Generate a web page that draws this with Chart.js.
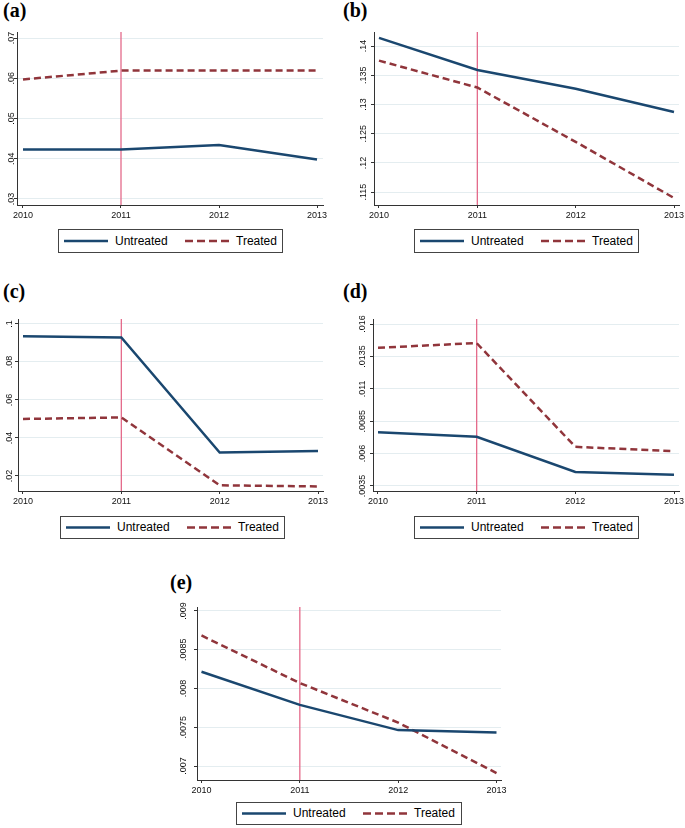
<!DOCTYPE html>
<html>
<head>
<meta charset="utf-8">
<script src="https://cdn.jsdelivr.net/npm/chart.js@4.4.1/dist/chart.umd.min.js"></script>
<style>
  html, body { margin: 0; padding: 0; background: #fff; overflow: hidden; }
  #page { position: relative; width: 685px; height: 828px; }
  canvas { position: absolute; }
  .tag { position: absolute; font: bold 20px "Liberation Serif", "Times New Roman", serif; line-height: 20px; color: #000; }
  .legend { position: absolute; border: 1px solid #444; box-sizing: border-box; font: 12px "Liberation Sans", Arial, sans-serif; color: #000; }
  .legend svg { position: absolute; left: 0; top: 0; }
  .legend span { position: absolute; top: 0; }
</style>
</head>
<body>
<div id="page">
  <div class="tag" style="left:3px;top:0px">(a)</div>
  <div class="tag" style="left:343px;top:0px">(b)</div>
  <div class="tag" style="left:3px;top:281px">(c)</div>
  <div class="tag" style="left:343px;top:281px">(d)</div>
  <div class="tag" style="left:170px;top:572px">(e)</div>
  <canvas id="chart-a"></canvas>
  <canvas id="chart-b"></canvas>
  <canvas id="chart-c"></canvas>
  <canvas id="chart-d"></canvas>
  <canvas id="chart-e"></canvas>
</div>
<script>
// Data
const years = [2010, 2011, 2012, 2013];
const treatYear = 2011;

const untreatedA = [0.0423, 0.0423, 0.0434, 0.0398];
const treatedA = [0.0597, 0.0619, 0.0619, 0.0619];
const ticksA = [0.03, 0.04, 0.05, 0.06, 0.07];
const tickLabelsA = ['.03', '.04', '.05', '.06', '.07'];
const rangeA = [0.0285, 0.0715];

const untreatedB = [0.1414, 0.1359, 0.1327, 0.1287];
const treatedB = [0.1375, 0.1329, 0.1236, 0.1140];
const ticksB = [0.115, 0.12, 0.125, 0.13, 0.135, 0.14];
const tickLabelsB = ['.115', '.12', '.125', '.13', '.135', '.14'];
const rangeB = [0.1128, 0.1424];

const untreatedC = [0.0935, 0.0929, 0.0323, 0.0332];
const treatedC = [0.0500, 0.0508, 0.0151, 0.0145];
const ticksC = [0.02, 0.04, 0.06, 0.08, 0.1];
const tickLabelsC = ['.02', '.04', '.06', '.08', '.1'];
const rangeC = [0.0121, 0.1026];

const untreatedD = [0.00765, 0.00729, 0.00458, 0.00437];
const treatedD = [0.01417, 0.01453, 0.00652, 0.00618];
const ticksD = [0.0035, 0.006, 0.0085, 0.011, 0.0135, 0.016];
const tickLabelsD = ['.0035', '.006', '.0085', '.011', '.0135', '.016'];
const rangeD = [0.00311, 0.01639];

const untreatedE = [0.008216, 0.007788, 0.007463, 0.007433];
const treatedE = [0.008683, 0.00807, 0.00756, 0.00691];
const ticksE = [0.007, 0.0075, 0.008, 0.0085, 0.009];
const tickLabelsE = ['.007', '.0075', '.008', '.0085', '.009'];
const rangeE = [0.00682, 0.00905];

const seriesNames = ['Untreated', 'Treated'];

// Colours (Stata s2color-like)
const NAVY = '#1a476f';
const MAROON = '#90353b';
const XLINE = '#e46a8a';
const GRID = '#e4edf0';
const AXIS = '#333';
const FONT = '"Liberation Sans", Arial, Helvetica, sans-serif';

const Y_AXIS_W = 17;
const X_AXIS_H = 20;
const PAD_TOP = 7;
const PAD_RIGHT = 20;

const measureCtx = document.createElement('canvas').getContext('2d');
measureCtx.font = '9px ' + FONT;

function makeChart(id, cfg) {
  const canvas = document.getElementById(id);
  const box = cfg.area;
  canvas.width = box.right - box.left + Y_AXIS_W + PAD_RIGHT;
  canvas.height = box.bottom - box.top + PAD_TOP + X_AXIS_H;
  canvas.style.left = (box.left - Y_AXIS_W) + 'px';
  canvas.style.top = (box.top - PAD_TOP) + 'px';

  // x range leaves a small margin inside the plot region, as Stata does
  const ppy = (box.right - box.left - 2 * box.mx) / 3;
  const xMin = years[0] - box.mx / ppy;
  const xMax = years[years.length - 1] + box.mx / ppy;

  const widest = Math.max(...cfg.labels.map(l => measureCtx.measureText(l).width));
  const yPad = box.labOff - 3 - widest / 2;

  const toPts = vals => years.map((x, i) => ({ x: x, y: vals[i] }));

  return new Chart(canvas.getContext('2d'), {
    type: 'line',
    data: {
      datasets: [
        {
          label: seriesNames[0],
          data: toPts(cfg.untreated),
          borderColor: NAVY,
          borderWidth: 2.5,
          pointRadius: 0,
          tension: 0,
          order: 1
        },
        {
          label: seriesNames[1],
          data: toPts(cfg.treated),
          borderColor: MAROON,
          borderWidth: 2.5,
          borderDash: [7, 4],
          pointRadius: 0,
          tension: 0,
          order: 2
        },
        {
          label: 'xline',
          data: [{ x: treatYear, y: cfg.range[0] }, { x: treatYear, y: cfg.range[1] }],
          borderColor: XLINE,
          borderWidth: 1.3,
          pointRadius: 0,
          order: 3
        }
      ]
    },
    options: {
      responsive: false,
      animation: false,
      devicePixelRatio: 1,
      layout: { padding: { left: 0, top: PAD_TOP, right: PAD_RIGHT, bottom: 0 } },
      plugins: { legend: { display: false }, tooltip: { enabled: false } },
      scales: {
        x: {
          type: 'linear',
          min: xMin,
          max: xMax,
          afterBuildTicks: s => { s.ticks = years.map(v => ({ value: v })); },
          afterFit: s => { s.height = X_AXIS_H; },
          ticks: {
            color: '#111',
            font: { family: FONT, size: 9 },
            padding: 2,
            maxRotation: 0,
            callback: v => String(v)
          },
          grid: { drawOnChartArea: false, drawTicks: true, tickLength: 3, tickColor: AXIS },
          border: { color: AXIS, width: 1 }
        },
        y: {
          type: 'linear',
          min: cfg.range[0],
          max: cfg.range[1],
          afterBuildTicks: s => { s.ticks = cfg.ticks.map(v => ({ value: v })); },
          afterFit: s => { s.width = Y_AXIS_W; },
          ticks: {
            color: '#111',
            font: { family: FONT, size: 9 },
            minRotation: 90,
            maxRotation: 90,
            crossAlign: 'center',
            padding: yPad,
            callback: v => {
              const i = cfg.ticks.findIndex(t => Math.abs(t - v) < 1e-9);
              return i >= 0 ? cfg.labels[i] : '';
            }
          },
          grid: { color: GRID, lineWidth: 1, tickLength: 3, tickColor: AXIS },
          border: { color: AXIS, width: 1 }
        }
      }
    }
  });
}

function addLegend(x, y, w, h) {
  const el = document.createElement('div');
  el.className = 'legend';
  el.style.left = x + 'px';
  el.style.top = y + 'px';
  el.style.width = w + 'px';
  el.style.height = h + 'px';
  const mid = (h - 2) / 2;
  el.innerHTML =
    '<svg width="' + (w - 2) + '" height="' + (h - 2) + '">' +
    '<line x1="5" y1="' + mid + '" x2="49" y2="' + mid + '" stroke="' + NAVY + '" stroke-width="2.7"/>' +
    '<line x1="126" y1="' + mid + '" x2="171" y2="' + mid + '" stroke="' + MAROON + '" stroke-width="2.7" stroke-dasharray="8 4"/>' +
    '</svg>' +
    '<span style="left:56px;line-height:' + (h - 2) + 'px">' + seriesNames[0] + '</span>' +
    '<span style="left:177px;line-height:' + (h - 2) + 'px">' + seriesNames[1] + '</span>';
  document.getElementById('page').appendChild(el);
}

document.addEventListener('DOMContentLoaded', function () {
  makeChart('chart-a', {
    untreated: untreatedA, treated: treatedA, ticks: ticksA, labels: tickLabelsA, range: rangeA,
    area: { left: 17, right: 323, top: 32, bottom: 205, mx: 6, labOff: 5 }
  });
  makeChart('chart-b', {
    untreated: untreatedB, treated: treatedB, ticks: ticksB, labels: tickLabelsB, range: rangeB,
    area: { left: 374, right: 679, top: 32, bottom: 205, mx: 5, labOff: 10 }
  });
  makeChart('chart-c', {
    untreated: untreatedC, treated: treatedC, ticks: ticksC, labels: tickLabelsC, range: rangeC,
    area: { left: 18, right: 323, top: 319, bottom: 491, mx: 5, labOff: 8 }
  });
  makeChart('chart-d', {
    untreated: untreatedD, treated: treatedD, ticks: ticksD, labels: tickLabelsD, range: rangeD,
    area: { left: 373, right: 679, top: 319, bottom: 491, mx: 5, labOff: 10 }
  });
  makeChart('chart-e', {
    untreated: untreatedE, treated: treatedE, ticks: ticksE, labels: tickLabelsE, range: rangeE,
    area: { left: 197, right: 501, top: 607, bottom: 780, mx: 4.5, labOff: 13 }
  });

  addLegend(58, 229, 225, 24);
  addLegend(414, 229, 225, 24);
  addLegend(60, 516, 225, 23);
  addLegend(414, 516, 225, 23);
  addLegend(236, 802, 226, 23);
});
</script>
</body>
</html>
